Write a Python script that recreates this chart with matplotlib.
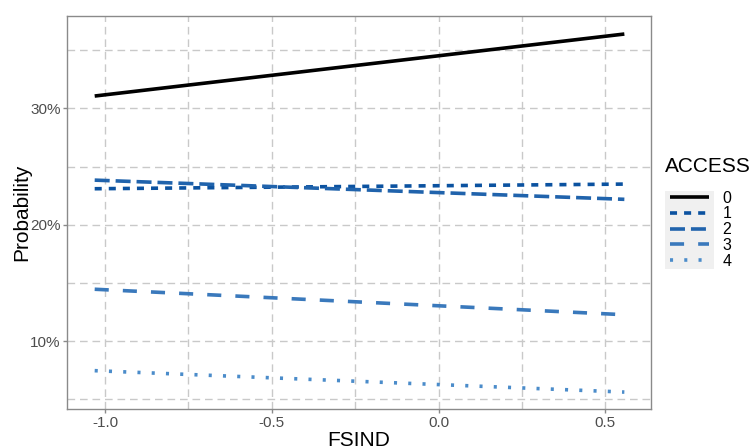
import matplotlib
matplotlib.use("Agg")
from matplotlib import pyplot as plt
from matplotlib.patches import Rectangle
from matplotlib.ticker import FuncFormatter, MultipleLocator

plt.rcParams['font.family'] = ['Liberation Sans', 'DejaVu Sans']

# predicted probabilities by ACCESS level over FSIND
fsind = [-1.031, 0.557]
access_levels = ['0', '1', '2', '3', '4']
prob_0 = [0.3106, 0.3639]
prob_1 = [0.2309, 0.2349]
prob_2 = [0.2383, 0.2218]
prob_3 = [0.1445, 0.1226]
prob_4 = [0.0745, 0.0561]
probs = [prob_0, prob_1, prob_2, prob_3, prob_4]

colors = ['#000000', '#0b52a0', '#2063ac', '#3a79bc', '#4b8cca']
dashes = [None, (1.95, 1.95), (4.15, 1.65), (3.9, 3.9), (0.85, 3.1)]

W, H = 752, 448
fig = plt.figure(figsize=(W / 100, H / 100), dpi=100)
ax = fig.add_axes([0.0891, 0.0864, 0.8653 - 0.0891, 0.9643 - 0.0864])

for lab, p, c, d in zip(access_levels, probs, colors, dashes):
    line, = ax.plot(fsind, p, color=c, lw=2.6, label=lab, solid_capstyle='butt',
                    dash_capstyle='butt')
    if d is not None:
        line.set_dashes(d)

ax.set_xlim(-1.114, 0.636)
ax.set_ylim(0.0413, 0.3794)
ax.xaxis.set_major_locator(MultipleLocator(0.5))
ax.xaxis.set_minor_locator(MultipleLocator(0.25))
ax.yaxis.set_major_locator(MultipleLocator(0.10))
ax.yaxis.set_minor_locator(MultipleLocator(0.05))
ax.xaxis.set_major_formatter(FuncFormatter(lambda v, pos: '%.1f' % v))
ax.yaxis.set_major_formatter(FuncFormatter(lambda v, pos: '%d%%' % round(v * 100)))

ax.grid(which='both', color='#c9c9c9', linestyle=(0, (5.5, 3.5)), linewidth=1.0)
ax.set_axisbelow(True)
for s in ax.spines.values():
    s.set_color('#8a8a8a')
    s.set_linewidth(1.0)
ax.tick_params(which='major', length=3.0, color='#8a8a8a', width=1.0,
               labelsize=11, labelcolor='#4d4d4d', pad=1.5)
ax.tick_params(which='minor', length=0)

ax.set_xlabel('FSIND', fontsize=15, labelpad=1)
ax.set_ylabel('Probability', fontsize=15, labelpad=-0.5)

# legend: title as separate text, keys on a grey box
fig.text(665 / W, 1 - 166 / H, 'ACCESS', fontsize=15, va='center', ha='left')
leg = ax.legend(loc='upper left',
                bbox_to_anchor=(668 / W, 1 - 189 / H),
                bbox_transform=fig.transFigure,
                frameon=False, fontsize=11.5,
                handlelength=2.45, handletextpad=0.85, labelspacing=0.05,
                borderaxespad=0, borderpad=0.1)

fig.canvas.draw()
bb = leg._legend_handle_box.get_window_extent()
hb = [h.get_window_extent() for h in leg.legend_handles]
x0 = min(b.x0 for b in hb) - 5
x1 = max(b.x1 for b in hb) + 5
y0 = bb.y0
y1 = bb.y1
fig.patches.append(Rectangle((x0 / W, y0 / H), (x1 - x0) / W, (y1 - y0) / H,
                             transform=fig.transFigure, facecolor='#f0f0f0',
                             edgecolor='none', zorder=-1))

fig.savefig('out.png', dpi=100)
